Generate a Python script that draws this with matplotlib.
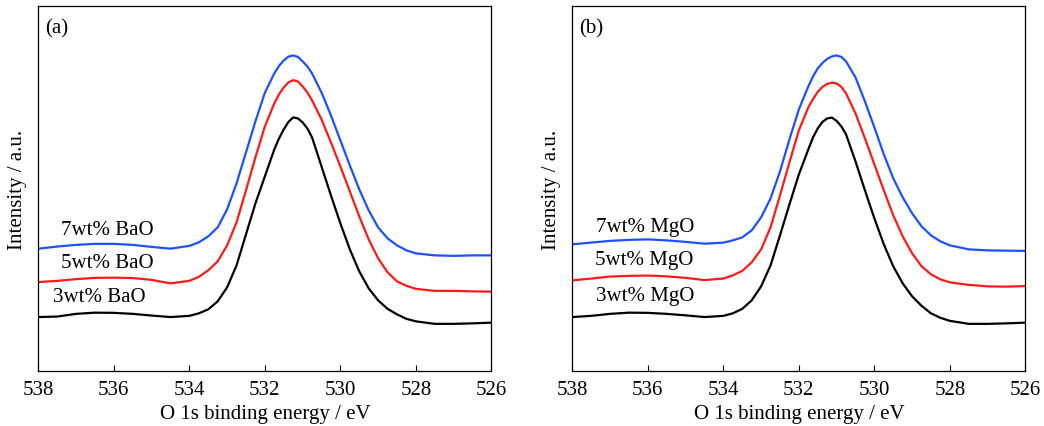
import matplotlib
matplotlib.use("Agg")
import matplotlib.pyplot as plt

plt.rcParams["font.family"] = ["Liberation Serif", "DejaVu Serif"]

# binding energy grid (eV)
energy = [538, 537.5, 537, 536.5, 536, 535.5, 535, 534.5, 534, 533.75, 533.5, 533.25,
          533, 532.75, 532.5, 532.25, 532, 531.75, 531.625, 531.5, 531.375, 531.25,
          531.125, 531, 530.875, 530.75, 530.5, 530.25, 530, 529.75, 529.5, 529.25,
          529, 528.75, 528.5, 528.25, 528, 527.5, 527, 526.5, 526]

# (a) BaO series, intensity in a.u.
bao_3 = [54.3, 54.8, 57.5, 58.7, 58.5, 57.5, 55.8, 54.3, 55.5, 58, 62, 70,
         84, 106, 137, 168, 195, 222, 233, 242, 249.5, 254,
         253, 249, 243, 234, 205, 176, 148, 122, 100, 83,
         71, 62.5, 57, 52.5, 50, 47.5, 47.5, 48, 48.7]
bao_5 = [89.3, 90.5, 92.2, 93.5, 93.7, 93.3, 91.5, 88, 90.5, 94.5, 101, 110,
         126, 149, 181, 214, 245, 268, 277, 284, 289, 291.3,
         290, 285, 279, 271, 252, 229, 205, 180, 155, 132,
         113, 99, 90, 85.5, 82.5, 80.5, 80.5, 80, 79.7]
bao_7 = [122.7, 124.8, 126.5, 127.5, 127.5, 126.5, 124.5, 122.7, 125.5, 129, 135, 144,
         162, 188, 219, 250, 278.7, 298, 305.5, 311, 314.8, 316,
         314.5, 310, 305, 298, 279, 256, 231, 206, 182, 161,
         144, 133, 126, 121, 118, 116, 115.5, 116, 116]

# (b) MgO series
mgo_3 = [54.3, 55.5, 57.5, 58.7, 58.5, 57.5, 56, 54.3, 55.5, 58, 62.5, 71,
         85, 106, 136, 167, 197, 222, 234, 243, 249.5, 253,
         253.8, 250.5, 245, 237, 210, 181, 153, 127, 105, 88,
         75, 65.5, 58, 53.5, 50.5, 47.5, 47.5, 48, 48.7]
mgo_5 = [91, 92.8, 94.8, 95.5, 95.8, 95, 93.5, 91.3, 92.8, 96, 100.5, 109,
         122, 144, 176, 209, 241, 264, 272.5, 279.5, 284.5, 287.5,
         288.7, 288, 284.5, 278, 258, 233, 207, 181, 156, 135,
         118, 105, 97, 92, 89, 86.5, 85, 84.7, 85.3]
mgo_7 = [127, 128.8, 130.5, 131.5, 132, 131, 129.5, 127.7, 128.7, 131, 134, 141,
         154, 173, 200, 232, 262, 285, 295, 303, 308.5, 312.5,
         315, 316, 314.5, 310, 294, 270, 244, 217, 193, 174,
         158, 145, 136, 130, 126, 122, 121, 120.7, 120.5]

colors = ["black", "#ff1a1a", "#1f50ff"]

panels = [
    ("(a)", [bao_3, bao_5, bao_7], ["3wt% BaO", "5wt% BaO", "7wt% BaO"],
     [(537.6, 75), (537.4, 109), (537.4, 142)]),
    ("(b)", [mgo_3, mgo_5, mgo_7], ["3wt% MgO", "5wt% MgO", "7wt% MgO"],
     [(537.37, 76), (537.4, 112), (537.37, 145)]),
]

fig = plt.figure(figsize=(10.44, 4.27), dpi=100)
lefts = [0.0367, 0.5482]

for left, (tag, series, names, spots) in zip(lefts, panels):
    ax = fig.add_axes([left, 0.128, 0.434, 0.856])
    for y, c in zip(series, colors):
        ax.plot(energy, y, color=c, lw=1.6, solid_joinstyle="round")
    for name, (xe, yi) in zip(names, spots):
        ax.text(xe, yi, name, fontsize=15, ha="left", va="center")
    ax.text(0.015, 0.94, tag, transform=ax.transAxes, fontsize=15, ha="left", va="center")

    ax.set_xlim(538, 526)
    ax.set_ylim(0, 365.6)
    ax.set_xticks([538, 536, 534, 532, 530, 528, 526])
    ax.set_yticks([])
    ax.tick_params(axis="x", direction="in", length=4, width=0.8, labelsize=15, pad=6)
    ax.set_xlabel("O 1s binding energy / eV", fontsize=15)
    ax.set_ylabel("Intensity / a.u.", fontsize=15)
    ax.yaxis.set_label_coords(-0.024, 0.5)
    ax.xaxis.set_label_coords(0.5, -0.09)
    for s in ax.spines.values():
        s.set_linewidth(0.9)

fig.savefig("out.png", dpi=100)
